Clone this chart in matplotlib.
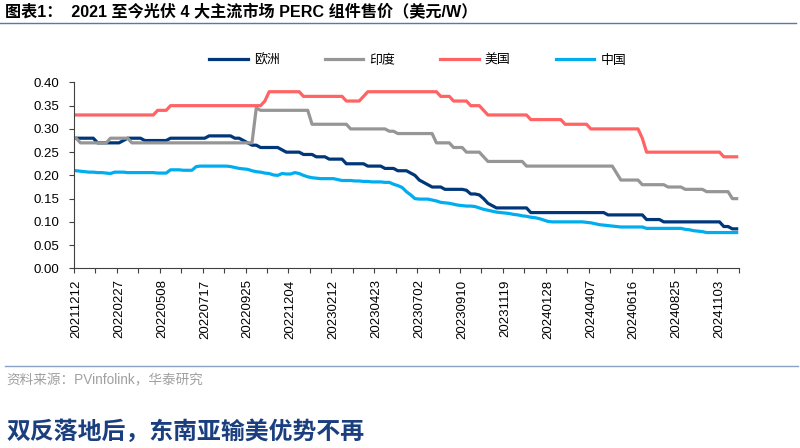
import numpy as np
import matplotlib.pyplot as plt
from matplotlib.lines import Line2D
from matplotlib.ticker import FormatStrFormatter

plt.rcParams['font.family'] = ['Liberation Sans', 'Noto Sans CJK SC', 'DejaVu Sans']

# weekly prices, USD/W (one point per week, labels every 10 weeks)
tick_labels = ['20211212', '20220227', '20220508', '20220717', '20220925', '20221204',
               '20230212', '20230423', '20230702', '20230910', '20231119', '20240128',
               '20240407', '20240616', '20240825', '20241103']

europe = [
    0.28, 0.28, 0.28, 0.28, 0.28, 0.27, 0.27, 0.27, 0.27, 0.27,
    0.27, 0.275, 0.28, 0.28, 0.28, 0.28, 0.275, 0.275, 0.275, 0.275,
    0.275, 0.275, 0.28, 0.28, 0.28, 0.28, 0.28, 0.28, 0.28, 0.28,
    0.28, 0.285, 0.285, 0.285, 0.285, 0.285, 0.285, 0.28, 0.28, 0.275,
    0.27, 0.265, 0.265, 0.26, 0.26, 0.26, 0.26, 0.26, 0.255, 0.25,
    0.25, 0.25, 0.25, 0.245, 0.245, 0.245, 0.24, 0.24, 0.24, 0.235,
    0.235, 0.235, 0.235, 0.225, 0.225, 0.225, 0.225, 0.225, 0.22, 0.22,
    0.22, 0.22, 0.215, 0.215, 0.215, 0.21, 0.21, 0.21, 0.205, 0.20,
    0.19, 0.185, 0.18, 0.175, 0.175, 0.175, 0.17, 0.17, 0.17, 0.17,
    0.17, 0.168, 0.16, 0.16, 0.158, 0.15, 0.14, 0.135, 0.13, 0.13,
    0.13, 0.13, 0.13, 0.13, 0.13, 0.13, 0.12, 0.12, 0.12, 0.12,
    0.12, 0.12, 0.12, 0.12, 0.12, 0.12, 0.12, 0.12, 0.12, 0.12,
    0.12, 0.12, 0.12, 0.12, 0.115, 0.115, 0.115, 0.115, 0.115, 0.115,
    0.115, 0.115, 0.115, 0.105, 0.105, 0.105, 0.105, 0.10, 0.10, 0.10,
    0.10, 0.10, 0.10, 0.10, 0.10, 0.10, 0.10, 0.10, 0.10, 0.10,
    0.10, 0.09, 0.09, 0.085, 0.085,
]

india = [
    0.28, 0.27, 0.27, 0.27, 0.27, 0.27, 0.27, 0.27, 0.28, 0.28,
    0.28, 0.28, 0.28, 0.27, 0.27, 0.27, 0.27, 0.27, 0.27, 0.27,
    0.27, 0.27, 0.27, 0.27, 0.27, 0.27, 0.27, 0.27, 0.27, 0.27,
    0.27, 0.27, 0.27, 0.27, 0.27, 0.27, 0.27, 0.27, 0.27, 0.27,
    0.27, 0.27, 0.345, 0.34, 0.34, 0.34, 0.34, 0.34, 0.34, 0.34,
    0.34, 0.34, 0.34, 0.34, 0.34, 0.31, 0.31, 0.31, 0.31, 0.31,
    0.31, 0.31, 0.31, 0.31, 0.30, 0.30, 0.30, 0.30, 0.30, 0.30,
    0.30, 0.30, 0.30, 0.295, 0.295, 0.29, 0.29, 0.29, 0.29, 0.29,
    0.29, 0.29, 0.29, 0.29, 0.27, 0.27, 0.27, 0.27, 0.26, 0.26,
    0.26, 0.25, 0.25, 0.25, 0.25, 0.24, 0.23, 0.23, 0.23, 0.23,
    0.23, 0.23, 0.23, 0.23, 0.23, 0.22, 0.22, 0.22, 0.22, 0.22,
    0.22, 0.22, 0.22, 0.22, 0.22, 0.22, 0.22, 0.22, 0.22, 0.22,
    0.22, 0.22, 0.22, 0.22, 0.22, 0.22, 0.205, 0.19, 0.19, 0.19,
    0.19, 0.19, 0.18, 0.18, 0.18, 0.18, 0.18, 0.18, 0.175, 0.175,
    0.175, 0.175, 0.17, 0.17, 0.17, 0.17, 0.17, 0.165, 0.165, 0.165,
    0.165, 0.165, 0.165, 0.15, 0.15,
]

usa = [
    0.33, 0.33, 0.33, 0.33, 0.33, 0.33, 0.33, 0.33, 0.33, 0.33,
    0.33, 0.33, 0.33, 0.33, 0.33, 0.33, 0.33, 0.33, 0.33, 0.34,
    0.34, 0.34, 0.35, 0.35, 0.35, 0.35, 0.35, 0.35, 0.35, 0.35,
    0.35, 0.35, 0.35, 0.35, 0.35, 0.35, 0.35, 0.35, 0.35, 0.35,
    0.35, 0.35, 0.35, 0.35, 0.36, 0.38, 0.38, 0.38, 0.38, 0.38,
    0.38, 0.38, 0.38, 0.37, 0.37, 0.37, 0.37, 0.37, 0.37, 0.37,
    0.37, 0.37, 0.37, 0.36, 0.36, 0.36, 0.36, 0.37, 0.38, 0.38,
    0.38, 0.38, 0.38, 0.38, 0.38, 0.38, 0.38, 0.38, 0.38, 0.38,
    0.38, 0.38, 0.38, 0.38, 0.38, 0.37, 0.37, 0.37, 0.36, 0.36,
    0.36, 0.36, 0.35, 0.35, 0.35, 0.34, 0.33, 0.33, 0.33, 0.33,
    0.33, 0.33, 0.33, 0.33, 0.33, 0.33, 0.32, 0.32, 0.32, 0.32,
    0.32, 0.32, 0.32, 0.32, 0.31, 0.31, 0.31, 0.31, 0.31, 0.31,
    0.30, 0.30, 0.30, 0.30, 0.30, 0.30, 0.30, 0.30, 0.30, 0.30,
    0.30, 0.30, 0.28, 0.25, 0.25, 0.25, 0.25, 0.25, 0.25, 0.25,
    0.25, 0.25, 0.25, 0.25, 0.25, 0.25, 0.25, 0.25, 0.25, 0.25,
    0.25, 0.24, 0.24, 0.24, 0.24,
]

china = [
    0.210, 0.209, 0.208, 0.207, 0.207, 0.206, 0.206, 0.205, 0.204, 0.207,
    0.207, 0.207, 0.206, 0.206, 0.206, 0.206, 0.206, 0.206, 0.206, 0.205,
    0.205, 0.205, 0.212, 0.212, 0.212, 0.211, 0.211, 0.211, 0.219, 0.220,
    0.220, 0.220, 0.220, 0.220, 0.220, 0.220, 0.219, 0.217, 0.215, 0.214,
    0.213, 0.210, 0.208, 0.207, 0.205, 0.204, 0.201, 0.200, 0.204, 0.203,
    0.203, 0.206, 0.204, 0.200, 0.197, 0.195, 0.194, 0.193, 0.193, 0.193,
    0.193, 0.191, 0.189, 0.189, 0.189, 0.188, 0.188, 0.187, 0.187, 0.186,
    0.186, 0.186, 0.185, 0.185, 0.181, 0.178, 0.174, 0.165, 0.158, 0.150,
    0.149, 0.149, 0.149, 0.147, 0.145, 0.142, 0.141, 0.140, 0.138, 0.136,
    0.135, 0.134, 0.134, 0.133, 0.130, 0.127, 0.125, 0.123, 0.121, 0.120,
    0.119, 0.118, 0.116, 0.115, 0.113, 0.112, 0.110, 0.109, 0.107, 0.104,
    0.101, 0.100, 0.100, 0.100, 0.100, 0.100, 0.100, 0.100, 0.100, 0.099,
    0.098, 0.096, 0.094, 0.093, 0.092, 0.091, 0.090, 0.089, 0.089, 0.089,
    0.089, 0.089, 0.089, 0.086, 0.086, 0.086, 0.086, 0.086, 0.086, 0.086,
    0.086, 0.086, 0.084, 0.083, 0.081, 0.080, 0.079, 0.077, 0.077, 0.077,
    0.077, 0.077, 0.077, 0.077, 0.077,
]

series = [('欧洲', europe, '#00367A'),
          ('印度', india, '#969696'),
          ('美国', usa, '#FF6363'),
          ('中国', china, '#00AEEF')]

fig = plt.figure(figsize=(8, 4.48), dpi=100)
ax = fig.add_axes([0.0925, 0.401, 0.831, 0.415])

n = len(europe)
x = np.arange(n) + 0.5
for name, vals, col in series:
    ax.plot(x, vals, color=col, lw=2.3, label=name, solid_joinstyle='round')

ax.set_xlim(0, n)
ax.set_ylim(0, 0.40)
ax.set_yticks(np.arange(0, 0.4001, 0.05))
ax.yaxis.set_major_formatter(FormatStrFormatter('%.2f'))

# tick marks between categories every 5 weeks, labels every 10 weeks
ax.set_xticks(np.arange(0, n + 1, 5))
ax.set_xticklabels([])
ax.set_xticks(np.arange(len(tick_labels)) * 10 + 0.5, minor=True)
ax.set_xticklabels(tick_labels, minor=True, rotation=90, fontsize=9.5)
ax.tick_params(axis='x', which='minor', length=0, pad=8)
ax.tick_params(axis='x', which='major', length=3.5, width=0.8, color='#404040')
ax.tick_params(axis='y', length=3.5, width=0.8, color='#404040', labelsize=9.5, pad=7)

for s in ['top', 'right']:
    ax.spines[s].set_visible(False)
for s in ['left', 'bottom']:
    ax.spines[s].set_color('#404040')
    ax.spines[s].set_linewidth(0.8)

fig.legend(loc='center', bbox_to_anchor=(0.522, 0.866), ncol=4, frameon=False,
           handlelength=3.0, columnspacing=3.5, handletextpad=0.45,
           prop={'family': ['Noto Sans CJK SC'], 'size': 9.3})

fig.text(0.006, 0.972, '图表1：  2021 至今光伏 4 大主流市场 PERC 组件售价（美元/W）',
         fontsize=11.6, fontweight='bold', ha='left', va='center', color='black')
fig.add_artist(Line2D([0.0, 0.995], [1 - 23 / 448] * 2, transform=fig.transFigure,
                      color='#5B78AE', lw=1))

fig.add_artist(Line2D([0.006, 0.997], [1 - 366 / 448] * 2, transform=fig.transFigure,
                      color='#8AA0C4', lw=1))
fig.text(0.008, 1 - 380 / 448, '资料来源：PVinfolink，华泰研究', fontsize=9.8,
         color='#A0A0A0', ha='left', va='center')
fig.text(0.008, 1 - 432 / 448, '双反落地后，东南亚输美优势不再', fontsize=17.2,
         fontweight='bold', color='#1B3F7E', ha='left', va='center',
         family=['Noto Sans CJK SC'])

fig.savefig('out.png', dpi=100)
